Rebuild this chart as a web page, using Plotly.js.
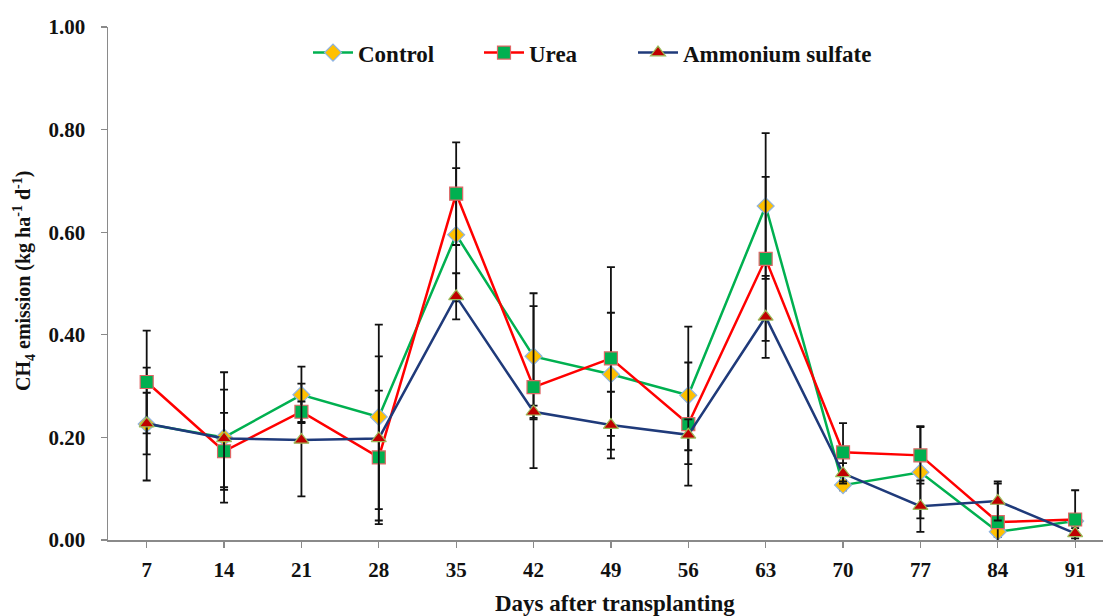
<!DOCTYPE html>
<html>
<head>
<meta charset="utf-8">
<script src="https://cdn.plot.ly/plotly-3.0.1.min.js"></script>
<style>html,body{margin:0;padding:0;background:#fff;}#chart{width:1103px;height:616px;}</style>
</head>
<body>
<div id="chart"></div>
<script>
const days = ["7","14","21","28","35","42","49","56","63","70","77","84","91"];
const controlVals = [0.226,0.200,0.283,0.240,0.595,0.358,0.323,0.282,0.651,0.107,0.132,0.016,0.037];
const controlErr  = [0.110,0.127,0.055,0.180,0.130,0.123,0.120,0.134,0.142,0.010,0.090,0.010,0.010];
const ureaVals    = [0.308,0.173,0.250,0.161,0.675,0.298,0.354,0.226,0.548,0.171,0.165,0.035,0.040];
const ureaErr     = [0.100,0.075,0.020,0.130,0.100,0.158,0.178,0.120,0.160,0.057,0.055,0.075,0.057];
const asVals      = [0.227,0.198,0.195,0.198,0.475,0.250,0.224,0.205,0.435,0.130,0.066,0.076,0.013];
const asErr       = [0.060,0.095,0.110,0.160,0.045,0.012,0.065,0.030,0.080,0.020,0.050,0.038,0.010];
const yTicks = [0,0.2,0.4,0.6,0.8,1.0];

const serif = "Liberation Serif, Times New Roman, serif";
function errCfg(arr){return {type:'data',array:arr,visible:true,color:'#111',thickness:1.8,width:4};}

const traces = [
  {x:days,y:controlVals,name:'Control',type:'scatter',mode:'lines+markers',legend:'legend',
   line:{color:'#00B050',width:2.5},
   marker:{symbol:'diamond',size:13,color:'#FFC000',line:{color:'#8EB4E3',width:1.2}},
   error_y:errCfg(controlErr)},
  {x:days,y:ureaVals,name:'Urea',type:'scatter',mode:'lines+markers',legend:'legend2',
   line:{color:'#FF0000',width:2.5},
   marker:{symbol:'square',size:13,color:'#00B050',line:{color:'#E06666',width:1.2}},
   error_y:errCfg(ureaErr)},
  {x:days,y:asVals,name:'Ammonium sulfate',type:'scatter',mode:'lines+markers',legend:'legend3',
   line:{color:'#1F3A7A',width:2.5},
   marker:{symbol:'triangle-up',size:13,color:'#C00000',line:{color:'#9BBB59',width:1.2}},
   error_y:errCfg(asErr)}
];

function leg(xpx){
  return {orientation:'h',x:(xpx-108)/995,xanchor:'left',y:0.95,yanchor:'middle',
          font:{family:serif,size:23,color:'#111',weight:'bold'},bgcolor:'rgba(0,0,0,0)',
          itemwidth:40};
}

const layout = {
  width:1103,height:616,
  margin:{l:108,r:0,t:27,b:76},
  paper_bgcolor:'#fff',plot_bgcolor:'#fff',
  showlegend:true,
  legend:leg(308),
  legend2:leg(479),
  legend3:leg(633),
  xaxis:{type:'category',range:[-0.5,12.36],showgrid:false,zeroline:false,
         showline:true,linecolor:'#8a8a8a',linewidth:1.5,
         ticks:'outside',ticklen:6,tickcolor:'#8a8a8a',tickwidth:1.2,
         ticklabelstandoff:4,
         tickfont:{family:serif,size:21,color:'#111',weight:'bold'}},
  yaxis:{range:[0,1],showgrid:false,zeroline:false,
         showline:true,linecolor:'#8a8a8a',linewidth:1.5,
         ticks:'outside',ticklen:6,tickcolor:'#8a8a8a',tickwidth:1.2,
         tickvals:yTicks,tickformat:'.2f',ticklabelstandoff:11,
         tickfont:{family:serif,size:21,color:'#111',weight:'bold'}},
  annotations:[
    {text:'CH<sub>4</sub> emission (kg ha<sup>-1</sup> d<sup>-1</sup>)',xref:'paper',yref:'paper',
     x:(24-108)/995,y:(540-281)/513,xanchor:'center',yanchor:'middle',textangle:-90,showarrow:false,
     font:{family:serif,size:20,color:'#111',weight:'bold'}},
    {text:'Days after transplanting',xref:'paper',yref:'paper',
     x:(615-108)/995,y:(540-603)/513,xanchor:'center',yanchor:'middle',showarrow:false,
     font:{family:serif,size:23,color:'#111',weight:'bold'}}
  ]
};
Plotly.newPlot('chart',traces,layout,{displayModeBar:false,staticPlot:true});
</script>
</body>
</html>
